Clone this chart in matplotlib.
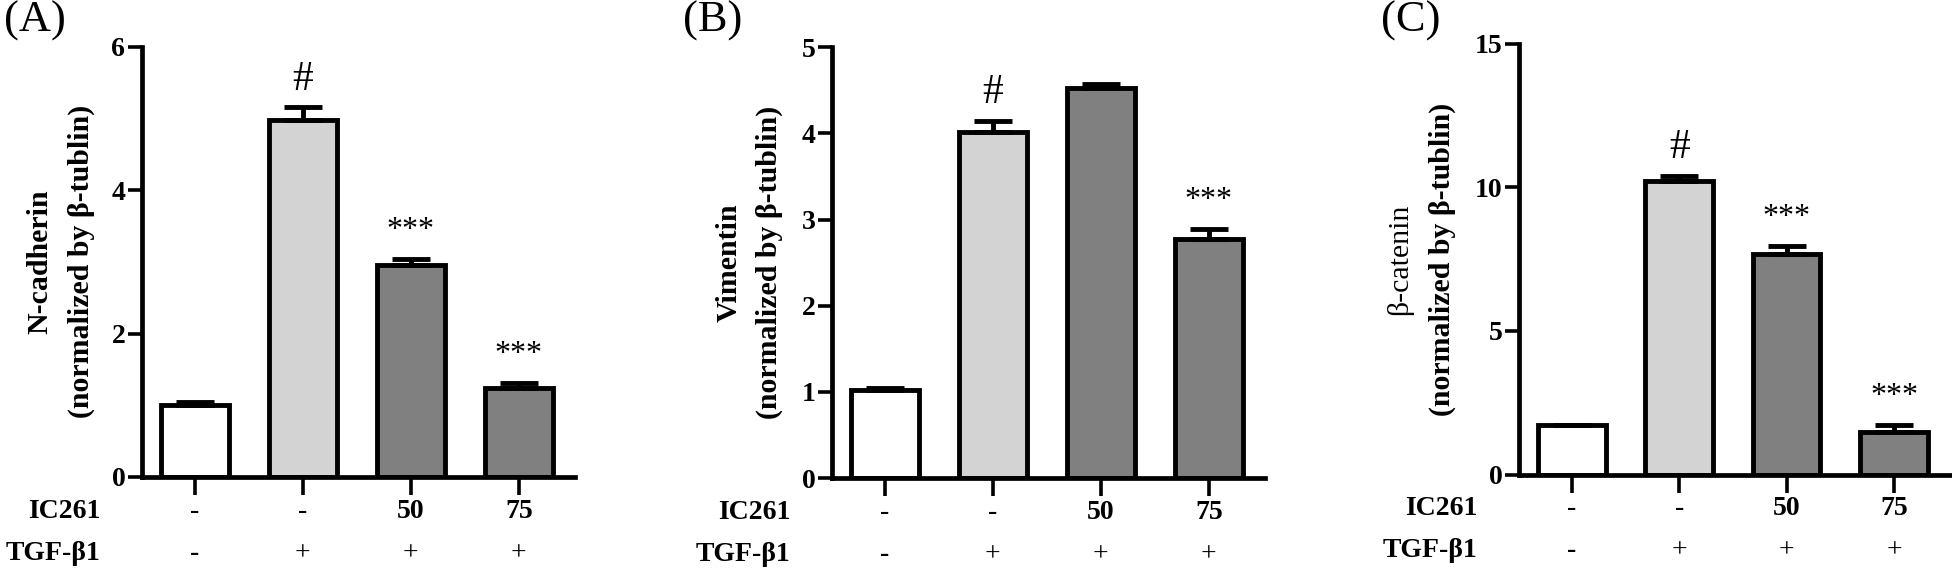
"""EMT marker western blot quantification: N-cadherin, Vimentin, beta-catenin."""
import matplotlib
matplotlib.use("Agg")
import matplotlib.pyplot as plt
import numpy as np

plt.rcParams["font.family"] = ["Liberation Serif", "DejaVu Serif"]

# data (mean and upper SEM per group)
groups = ["ctrl", "TGF", "TGF+IC50", "TGF+IC75"]
ic261_labels = ["-", "-", "50", "75"]
tgf_labels = ["-", "+", "+", "+"]

ncad_mean = [1.01, 4.97, 2.96, 1.24]
ncad_sem = [0.03, 0.18, 0.08, 0.07]
vim_mean = [1.02, 4.02, 4.53, 2.78]
vim_sem = [0.03, 0.13, 0.04, 0.11]
bcat_mean = [1.71, 10.23, 7.66, 1.49]
bcat_sem = [0.02, 0.17, 0.28, 0.22]

# significance marks per bar
ncad_marks = ["", "#", "***", "***"]
vim_marks = ["", "#", "", "***"]
bcat_marks = ["", "#", "***", "***"]

BAR_COLORS = ["white", "#d3d3d3", "#808080", "#808080"]
LW = 3.5

panels = [
    dict(label="(A)", name="N-cadherin", name_bold=True, mean=ncad_mean, sem=ncad_sem,
         marks=ncad_marks, ymax=6, yticks=[0, 2, 4, 6],
         rect=[142 / 1952, 93 / 570, 433 / 1952, 430.5 / 570],
         lab_x=(-102, -61), panel_x=4),
    dict(label="(B)", name="Vimentin", name_bold=True, mean=vim_mean, sem=vim_sem,
         marks=vim_marks, ymax=5, yticks=[0, 1, 2, 3, 4, 5],
         rect=[832 / 1952, 92 / 570, 433 / 1952, 430.7 / 570],
         lab_x=(-103, -63), panel_x=683),
    dict(label="(C)", name="β-catenin", name_bold=False, mean=bcat_mean, sem=bcat_sem,
         marks=bcat_marks, ymax=15, yticks=[0, 5, 10, 15],
         rect=[1519 / 1952, 95.5 / 570, 431 / 1952, 431 / 570],
         lab_x=(-119, -77), panel_x=1381),
]

fig = plt.figure(figsize=(19.52, 5.70), dpi=100)
x = np.arange(len(groups))

for p in panels:
    ax = fig.add_axes(p["rect"])
    ax.bar(x, p["mean"], width=0.63, color=BAR_COLORS, edgecolor="black",
           linewidth=LW, zorder=2)
    ax.errorbar(x, p["mean"], yerr=[np.zeros(len(x)), p["sem"]], fmt="none",
                ecolor="black", elinewidth=LW, capsize=14, capthick=LW, zorder=3)

    for xi, m, s, mk in zip(x, p["mean"], p["sem"], p["marks"]):
        if not mk:
            continue
        if mk == "#":
            ax.annotate(mk, xy=(xi, m + s), xytext=(0, 6), textcoords="offset points",
                        ha="center", va="bottom", fontsize=30)
        else:
            ax.annotate(mk, xy=(xi, m + s), xytext=(0, 10), textcoords="offset points",
                        ha="center", va="bottom", fontsize=23)

    ax.set_xlim(-0.49, 3.52)
    ax.set_ylim(0, p["ymax"])
    ax.set_yticks(p["yticks"])
    ax.set_xticks(x)
    ax.set_xticklabels([])
    for sp in ["top", "right"]:
        ax.spines[sp].set_visible(False)
    for sp in ["left", "bottom"]:
        ax.spines[sp].set_linewidth(3.4)
    ax.tick_params(axis="y", direction="out", length=10, width=2.6, labelsize=20, pad=2)
    ax.tick_params(axis="x", direction="out", length=13, width=2.6)
    for t in ax.get_yticklabels():
        t.set_fontweight("bold")

    # y label, two lines
    ax.annotate(p["name"], xy=(0, 0.5), xycoords="axes fraction",
                xytext=(p["lab_x"][0] * 0.72, 0), textcoords="offset points",
                rotation=90, ha="center", va="center", fontsize=21.5,
                fontweight="bold" if p["name_bold"] else "normal")
    ax.annotate("(normalized by β-tublin)", xy=(0, 0.5), xycoords="axes fraction",
                xytext=(p["lab_x"][1] * 0.72, 0), textcoords="offset points",
                rotation=90, ha="center", va="center", fontsize=21.5, fontweight="bold")

    # treatment rows under the axis
    for xi, a, b in zip(x, ic261_labels, tgf_labels):
        ax.annotate(a, xy=(xi, 0), xytext=(0, -24.5), textcoords="offset points",
                    ha="center", va="center", fontsize=20,
                    fontweight="normal" if a == "-" else "bold")
        ax.annotate(b, xy=(xi, 0), xytext=(0, -55), textcoords="offset points",
                    ha="center", va="center", fontsize=20,
                    fontweight="bold" if b == "-" else "normal")
    ax.annotate("IC261", xy=(0, 0), xycoords="axes fraction", xytext=(-30, -24.5),
                textcoords="offset points", ha="right", va="center", fontsize=20,
                fontweight="bold")
    ax.annotate("TGF-β1", xy=(0, 0), xycoords="axes fraction", xytext=(-30, -55),
                textcoords="offset points", ha="right", va="center", fontsize=20,
                fontweight="bold")

    fig.text(p["panel_x"] / 1952, 1 - 1 / 570, p["label"], ha="left", va="top",
             fontsize=32)

fig.savefig("out.png", dpi=100)
